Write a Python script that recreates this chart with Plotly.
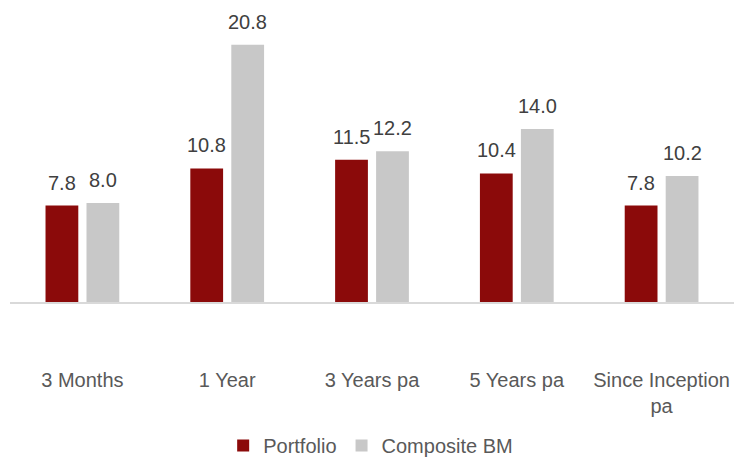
import plotly.graph_objects as go

categories = ["3 Months", "1 Year", "3 Years pa", "5 Years pa", "Since Inception<br>pa"]
portfolio = [7.8, 10.8, 11.5, 10.4, 7.8]
composite_bm = [8.0, 20.8, 12.2, 14.0, 10.2]
series_names = ["Portfolio", "Composite BM"]
colors = ["#8B0A0A", "#C8C8C8"]

W, H = 734, 457
ml, mr, mt, mb = 10, 0, 10, 155
bargap = 0.434
bargroupgap = 0.2
FONT = "Liberation Sans, Arial, sans-serif"

fig = go.Figure()
for name, vals, col in zip(series_names, [portfolio, composite_bm], colors):
    fig.add_trace(go.Bar(x=categories, y=vals, name=name, marker=dict(color=col, line=dict(width=0))))

# data labels
plot_w = W - ml - mr
spacing = plot_w / len(categories)
slot = spacing * (1 - bargap) / 2
for k, vals in enumerate([portfolio, composite_bm]):
    shift = (k - 0.5) * slot
    for c, v in zip(categories, vals):
        fig.add_annotation(x=c, y=v, text=f"{v:.1f}", showarrow=False,
                           xshift=shift, yshift=10, yanchor="bottom",
                           font=dict(size=20, color="#404040", family=FONT))

fig.update_layout(
    width=W, height=H,
    margin=dict(l=ml, r=mr, t=mt, b=mb, autoexpand=False),
    paper_bgcolor="white", plot_bgcolor="white",
    barmode="group", bargap=bargap, bargroupgap=bargroupgap,
    font=dict(family=FONT, size=20, color="#595959"),
    showlegend=True,
    legend=dict(orientation="h", x=0.505, xanchor="center", xref="container",
                y=0.025, yanchor="middle", yref="container",
                font=dict(size=20, color="#595959"),
                itemwidth=30, tracegroupgap=0, bgcolor="rgba(0,0,0,0)"),
)
fig.update_xaxes(showline=True, linecolor="#D9D9D9", linewidth=1.5, ticks="",
                 showgrid=False, tickfont=dict(size=20, color="#595959"),
                 ticklabelstandoff=59, automargin=False)
fig.update_yaxes(range=[0, 23.62], visible=False, showgrid=False, zeroline=False, automargin=False)

fig.write_html("out.html", config={"displayModeBar": False},
               post_script="document.body.style.margin='0';document.body.style.overflow='hidden';")
